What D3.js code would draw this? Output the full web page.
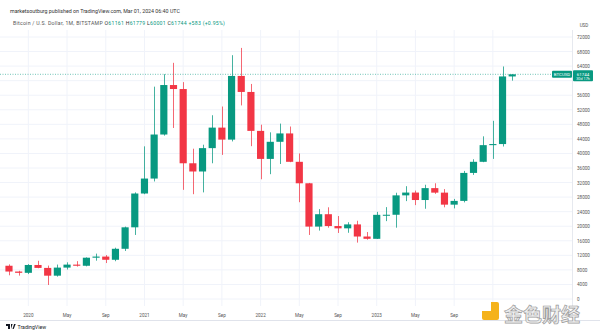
<!DOCTYPE html>
<html><head><meta charset="utf-8">
<script src="https://cdn.jsdelivr.net/npm/d3@7"></script>
<style>body{margin:0;background:#fff;}svg{display:block;font-family:Roboto,"Noto Sans",sans-serif;}</style>
</head><body>
<svg id="c" width="600" height="333"></svg>
<script>
// Monthly candles, BTC/USD (Bitstamp)
const months = ["2019-11","2019-12","2020-01","2020-02","2020-03","2020-04","2020-05","2020-06","2020-07","2020-08","2020-09","2020-10","2020-11","2020-12","2021-01","2021-02","2021-03","2021-04","2021-05","2021-06","2021-07","2021-08","2021-09","2021-10","2021-11","2021-12","2022-01","2022-02","2022-03","2022-04","2022-05","2022-06","2022-07","2022-08","2022-09","2022-10","2022-11","2022-12","2023-01","2023-02","2023-03","2023-04","2023-05","2023-06","2023-07","2023-08","2023-09","2023-10","2023-11","2023-12","2024-01","2024-02","2024-03"];
const opens  = [9140,7546,7193,9350,8543,6410,8630,9450,9135,11350,11660,10780,13800,19700,28990,33100,45200,58800,57700,37300,35040,41460,47100,43800,61300,56900,46200,38500,43200,45500,37700,31800,19900,23300,20050,19420,20500,17170,16540,23130,23150,28480,29250,27200,30470,29230,25930,26960,34650,37700,42280,42580,61161];
const highs  = [9515,7750,9578,10500,9188,9460,10080,10400,11440,12470,12070,14100,19900,29300,41950,58350,61780,64900,59600,41300,42400,50500,52900,67000,69000,59100,47900,45800,48200,47400,40000,31900,24700,25200,22800,21100,21500,18400,23950,25250,29200,31000,29800,31400,31800,30200,27500,35200,38400,44700,48970,63900,61779];
const lows   = [6515,6430,6850,8450,3850,6150,8100,8900,8970,10530,9880,10380,13200,17600,28800,32300,44900,47000,30000,28800,29300,37300,39600,43300,53200,42000,32900,34300,37100,37600,26600,17600,18800,19600,18150,18200,15500,16300,16500,21400,19600,26900,25800,24800,28900,25200,24900,26550,34100,37600,38500,41900,60001];
const closes = [7546,7193,9350,8543,6410,8630,9450,9135,11350,11660,10780,13800,19700,28990,33100,45200,58800,57700,37300,35040,41460,47100,43800,61300,56900,46200,38500,43200,45500,37700,31800,19900,23300,20050,19420,20500,17170,16540,23130,23150,28480,29250,27200,30470,29230,25930,26960,34650,37700,42280,42580,61161,61744];
const yTicks = [0,4000,8000,12000,16000,20000,24000,28000,32000,36000,40000,44000,48000,52000,56000,60000,64000,68000,72000];
const xTickMonths = ["2020-01","2020-05","2020-09","2021-01","2021-05","2021-09","2022-01","2022-05","2022-09","2023-01","2023-05","2023-09","2024-01"];
const xTickLabels = ["2020","May","Sep","2021","May","Sep","2022","May","Sep","2023","May","Sep","2024"];
const lastPrice = 61744;

const UP = "#089981", DOWN = "#f23645";
const svg = d3.select("#c");
const plotL = 0, plotR = 572, plotT = 30, plotB = 306;

const x = d3.scaleBand().domain(months).range([5.4, 5.4 + months.length * 9.63]).paddingInner(0.26);
const y = d3.scaleLinear().domain([0, 72000]).range([299, 37]);
const cx = m => x(m) + x.bandwidth() / 2;

// grid
const g = svg.append("g");
g.selectAll(".hg").data(yTicks).join("line")
  .attr("x1", plotL).attr("x2", plotR).attr("y1", d => y(d)).attr("y2", d => y(d))
  .attr("stroke", "#f0f3fa").attr("stroke-width", 1);
g.selectAll(".vg").data(xTickMonths).join("line")
  .attr("x1", d => cx(d)).attr("x2", d => cx(d)).attr("y1", plotT).attr("y2", plotB)
  .attr("stroke", "#f0f3fa").attr("stroke-width", 1);

// price scale separator & bottom line
svg.append("line").attr("x1", plotR + 0.5).attr("x2", plotR + 0.5).attr("y1", plotT).attr("y2", 320).attr("stroke", "#e6e9ef");
svg.append("line").attr("x1", 0).attr("x2", 600).attr("y1", 320.5).attr("y2", 320.5).attr("stroke", "#e0e3eb");

// candles
const data = months.map((m, i) => ({m, o: opens[i], h: highs[i], l: lows[i], c: closes[i]}));
const cg = svg.append("g");
cg.selectAll(".wick").data(data).join("line")
  .attr("x1", d => Math.round(cx(d.m)) + 0.5).attr("x2", d => Math.round(cx(d.m)) + 0.5)
  .attr("y1", d => y(d.h)).attr("y2", d => y(d.l))
  .attr("stroke", d => d.c >= d.o ? UP : DOWN).attr("stroke-width", 1).attr("opacity", 0.75);
cg.selectAll(".body").data(data).join("rect")
  .attr("x", d => x(d.m)).attr("width", x.bandwidth())
  .attr("y", d => y(Math.max(d.o, d.c)))
  .attr("height", d => Math.max(1, Math.abs(y(d.o) - y(d.c))))
  .attr("fill", d => d.c >= d.o ? UP : DOWN);

// last price dotted line
svg.append("line").attr("x1", 0).attr("x2", 552).attr("y1", y(lastPrice)).attr("y2", y(lastPrice))
  .attr("stroke", UP).attr("stroke-width", 0.8).attr("stroke-dasharray", "1,1.5").attr("opacity", 0.7);

// y axis labels (60000 is hidden behind the last-price label in the original)
const ya = svg.append("g").attr("transform", `translate(${plotR},0)`)
  .call(d3.axisRight(y).tickValues(yTicks.filter(t => Math.abs(y(t) - y(lastPrice)) > 7)).tickSize(0).tickPadding(5).tickFormat(d => d));
ya.select(".domain").remove();
ya.selectAll("text").attr("font-size", 4.6).attr("fill", "#555").attr("font-family", "Roboto,sans-serif");
svg.append("text").attr("x", 584).attr("y", 27).attr("text-anchor", "middle").attr("font-size", 4.6).attr("fill", "#555").text("USD");

// price labels
svg.append("rect").attr("x", 552).attr("y", y(lastPrice) - 3.5).attr("width", 20).attr("height", 7).attr("fill", UP).attr("rx", 1);
svg.append("text").attr("x", 562).attr("y", y(lastPrice) + 1.6).attr("text-anchor", "middle").attr("font-size", 4.4).attr("fill", "#fff").text("BTCUSD");
svg.append("rect").attr("x", 573).attr("y", y(lastPrice) - 4).attr("width", 20).attr("height", 11).attr("fill", UP).attr("rx", 1);
svg.append("text").attr("x", 583).attr("y", y(lastPrice) + 1.2).attr("text-anchor", "middle").attr("font-size", 4.4).attr("fill", "#fff").text(d3.format("d")(lastPrice));
svg.append("text").attr("x", 583).attr("y", y(lastPrice) + 5.6).attr("text-anchor", "middle").attr("font-size", 3.8).attr("fill", "#fff").text("30d 17h");

// x axis
const xa = svg.append("g").attr("transform", `translate(0,${plotB})`)
  .call(d3.axisBottom(x).tickValues(xTickMonths).tickSize(0).tickPadding(8).tickFormat(d => xTickLabels[xTickMonths.indexOf(d)]));
xa.select(".domain").remove();
xa.selectAll("text").attr("font-size", 4.6).attr("fill", "#555").attr("font-family", "Roboto,sans-serif");

// header
svg.append("text").attr("x", 10).attr("y", 13).attr("font-size", 5.3).attr("fill", "#333").text("marketsoutburg published on TradingView.com, Mar 01, 2024 06:40 UTC");
const h2 = svg.append("text").attr("x", 13).attr("y", 25).attr("font-size", 5.2).attr("fill", "#555").attr("letter-spacing", 0.25);
h2.append("tspan").text("Bitcoin / U.S. Dollar, 1M, BITSTAMP  ");
h2.append("tspan").attr("fill", "#333").text("O");
h2.append("tspan").attr("fill", UP).text(opens[opens.length-1] + "  ");
h2.append("tspan").attr("fill", "#333").text("H");
h2.append("tspan").attr("fill", UP).text(highs[highs.length-1] + "  ");
h2.append("tspan").attr("fill", "#333").text("L");
h2.append("tspan").attr("fill", UP).text(lows[lows.length-1] + "  ");
h2.append("tspan").attr("fill", "#333").text("C");
h2.append("tspan").attr("fill", UP).text(closes[closes.length-1] + "  +583 (+0.95%)");

// footer TradingView logo
const tv = svg.append("g").attr("transform", "translate(6,323)");
tv.append("path").attr("d", "M0,1 h4 v5 h-2 v-3 h-2z M5,1 h1.6 l-1.6,5z M6.5,6 l1.6,-5 h1.6 l-2,5z").attr("fill", "#131722");
tv.append("text").attr("x", 11.5).attr("y", 5.6).attr("font-size", 5.2).attr("fill", "#131722").text("TradingView");

// watermark
const wm = svg.append("g");
wm.append("rect").attr("x", 482).attr("y", 302).attr("width", 17).attr("height", 18).attr("rx", 2).attr("fill", "#f5b21a");
wm.append("rect").attr("x", 482).attr("y", 302).attr("width", 9).attr("height", 9).attr("fill", "#fff");
wm.append("text").attr("x", 504).attr("y", 322).attr("font-size", 19).attr("font-family", "Noto Sans CJK SC").attr("font-weight", 700)
  .attr("fill", "#eeeeee").attr("stroke", "#9a9a9a").attr("stroke-width", 0.7).text("金色财经");
</script>
</body></html>
